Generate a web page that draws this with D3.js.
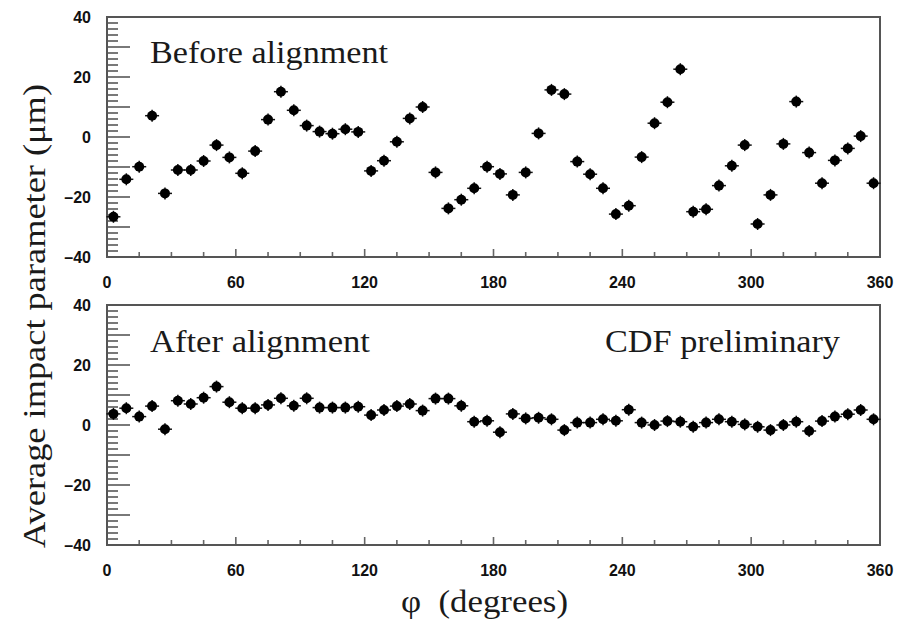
<!DOCTYPE html>
<html><head><meta charset="utf-8">
<script src="https://cdn.jsdelivr.net/npm/d3@7"></script>
<style>body{margin:0;background:#fff}</style>
</head><body>
<script>
const phi = [3,9,15,21,27,33,39,45,51,57,63,69,75,81,87,93,99,105,111,117,123,129,135,141,147,153,159,165,171,177,183,189,195,201,207,213,219,225,231,237,243,249,255,261,267,273,279,285,291,297,303,309,315,321,327,333,339,345,351,357];
const before = [-26.6,-14.1,-9.9,7.1,-18.8,-11,-11,-8,-2.7,-6.8,-12.1,-4.7,5.8,15.1,8.9,3.8,1.8,1.1,2.6,1.7,-11.3,-7.9,-1.6,6.2,10,-11.8,-23.8,-20.9,-17.1,-9.9,-12.3,-19.3,-11.8,1.2,15.7,14.3,-8.2,-12.4,-17.1,-25.7,-22.9,-6.7,4.6,11.6,22.6,-24.9,-24.1,-16.2,-9.6,-2.7,-29,-19.3,-2.3,11.8,-5.2,-15.4,-7.8,-3.8,0.3,-15.4];
const after = [3.7,5.6,2.8,6.3,-1.4,8.1,7,9.1,12.8,7.6,5.6,5.6,6.7,8.9,6.4,8.9,5.8,5.8,5.8,6.1,3.3,5,6.3,7,4.8,8.8,8.8,6.4,1.1,1.4,-2.4,3.7,2.2,2.4,1.9,-1.7,0.8,0.8,1.9,1.4,5.1,0.8,0,1.3,1.1,-0.6,0.8,1.9,1.1,0.2,-0.6,-1.7,0,1.1,-2,1.3,2.8,3.6,5,1.9];
const xTicks = [0,60,120,180,240,300,360];
const yTicks = [-40,-20,0,20,40];
const panelLabels = ["Before alignment","After alignment"];

const svg = d3.select("body").append("svg").attr("width",900).attr("height",626);
const x = d3.scaleLinear().domain([0,360]).range([107,880]);
const panels = [{top:17, data:before, label:panelLabels[0]},{top:305, data:after, label:panelLabels[1]}];
const H = 240;
const frameCol = "#555";

panels.forEach((p,pi)=>{
  const y = d3.scaleLinear().domain([-40,40]).range([p.top+H, p.top]);
  const g = svg.append("g");
  const minor = d3.range(-40,41,2);
  g.selectAll(".ym").data(minor).enter().append("line")
    .attr("x1",x(0)).attr("x2",d=> d%10===0 ? x(0)+23 : x(0)+11)
    .attr("y1",d=>y(d)).attr("y2",d=>y(d))
    .attr("stroke","#6a6a6a").attr("stroke-width",1.8);
  const xt = d3.range(0,361,15);
  g.selectAll(".xm").data(xt).enter().append("line")
    .attr("x1",d=>x(d)).attr("x2",d=>x(d))
    .attr("y1",y(-40)).attr("y2",d=> d%60===0 ? y(-40)-8 : y(-40)-5)
    .attr("stroke","#666").attr("stroke-width",1.6);
  g.append("rect").attr("x",x(0)).attr("y",p.top).attr("width",x(360)-x(0)).attr("height",H)
    .attr("fill","none").attr("stroke",frameCol).attr("stroke-width",2);
  g.selectAll(".yl").data(yTicks).enter().append("text")
    .attr("x",91).attr("y",d=>y(d)).attr("dy","0.36em").attr("text-anchor","end")
    .attr("font-family","Liberation Sans, Arial, sans-serif").attr("font-weight","bold").attr("font-size",16)
    .attr("fill","#111")
    .text(d=> d<0 ? "\u2013"+Math.abs(d) : d);
  g.selectAll(".xl").data(xTicks).enter().append("text")
    .attr("x",d=>x(d)).attr("y",y(-40)+31).attr("text-anchor","middle")
    .attr("font-family","Liberation Sans, Arial, sans-serif").attr("font-weight","bold").attr("font-size",16)
    .attr("fill","#111").text(d=>d);
  const m = g.selectAll(".pt").data(p.data).enter().append("g")
    .attr("transform",(d,i)=>`translate(${x(phi[i])},${y(d)})`);
  m.append("line").attr("x1",-7).attr("x2",7).attr("y1",0).attr("y2",0).attr("stroke","#111").attr("stroke-width",1.5);
  m.append("line").attr("x1",0).attr("x2",0).attr("y1",-6).attr("y2",6).attr("stroke","#111").attr("stroke-width",1.5);
  m.append("circle").attr("r",5).attr("fill","#000");
  g.append("text").attr("x",150).attr("y",pi===0?63:352)
    .attr("font-family","Liberation Serif, Times New Roman, serif").attr("font-size",31)
    .attr("fill","#1a1a1a").attr("textLength", pi===0?238:220).attr("lengthAdjust","spacingAndGlyphs")
    .text(p.label);
});

svg.append("text").attr("x",605).attr("y",352)
  .attr("font-family","Liberation Serif, Times New Roman, serif").attr("font-size",31)
  .attr("fill","#1a1a1a").attr("textLength",235).attr("lengthAdjust","spacingAndGlyphs")
  .text("CDF preliminary");

svg.append("text").attr("transform","translate(45,316) rotate(-90)").attr("text-anchor","middle")
  .attr("font-family","Liberation Serif, Times New Roman, serif").attr("font-size",31)
  .attr("fill","#1a1a1a").attr("textLength",464).attr("lengthAdjust","spacingAndGlyphs")
  .text("Average impact parameter (\u03bcm)");

svg.append("text").attr("x",401).attr("y",612)
  .attr("font-family","Liberation Serif, Times New Roman, serif").attr("font-size",31)
  .attr("fill","#1a1a1a").attr("textLength",167).attr("lengthAdjust","spacingAndGlyphs")
  .attr("xml:space","preserve")
  .text("\u03c6  (degrees)");
</script>
</body></html>
